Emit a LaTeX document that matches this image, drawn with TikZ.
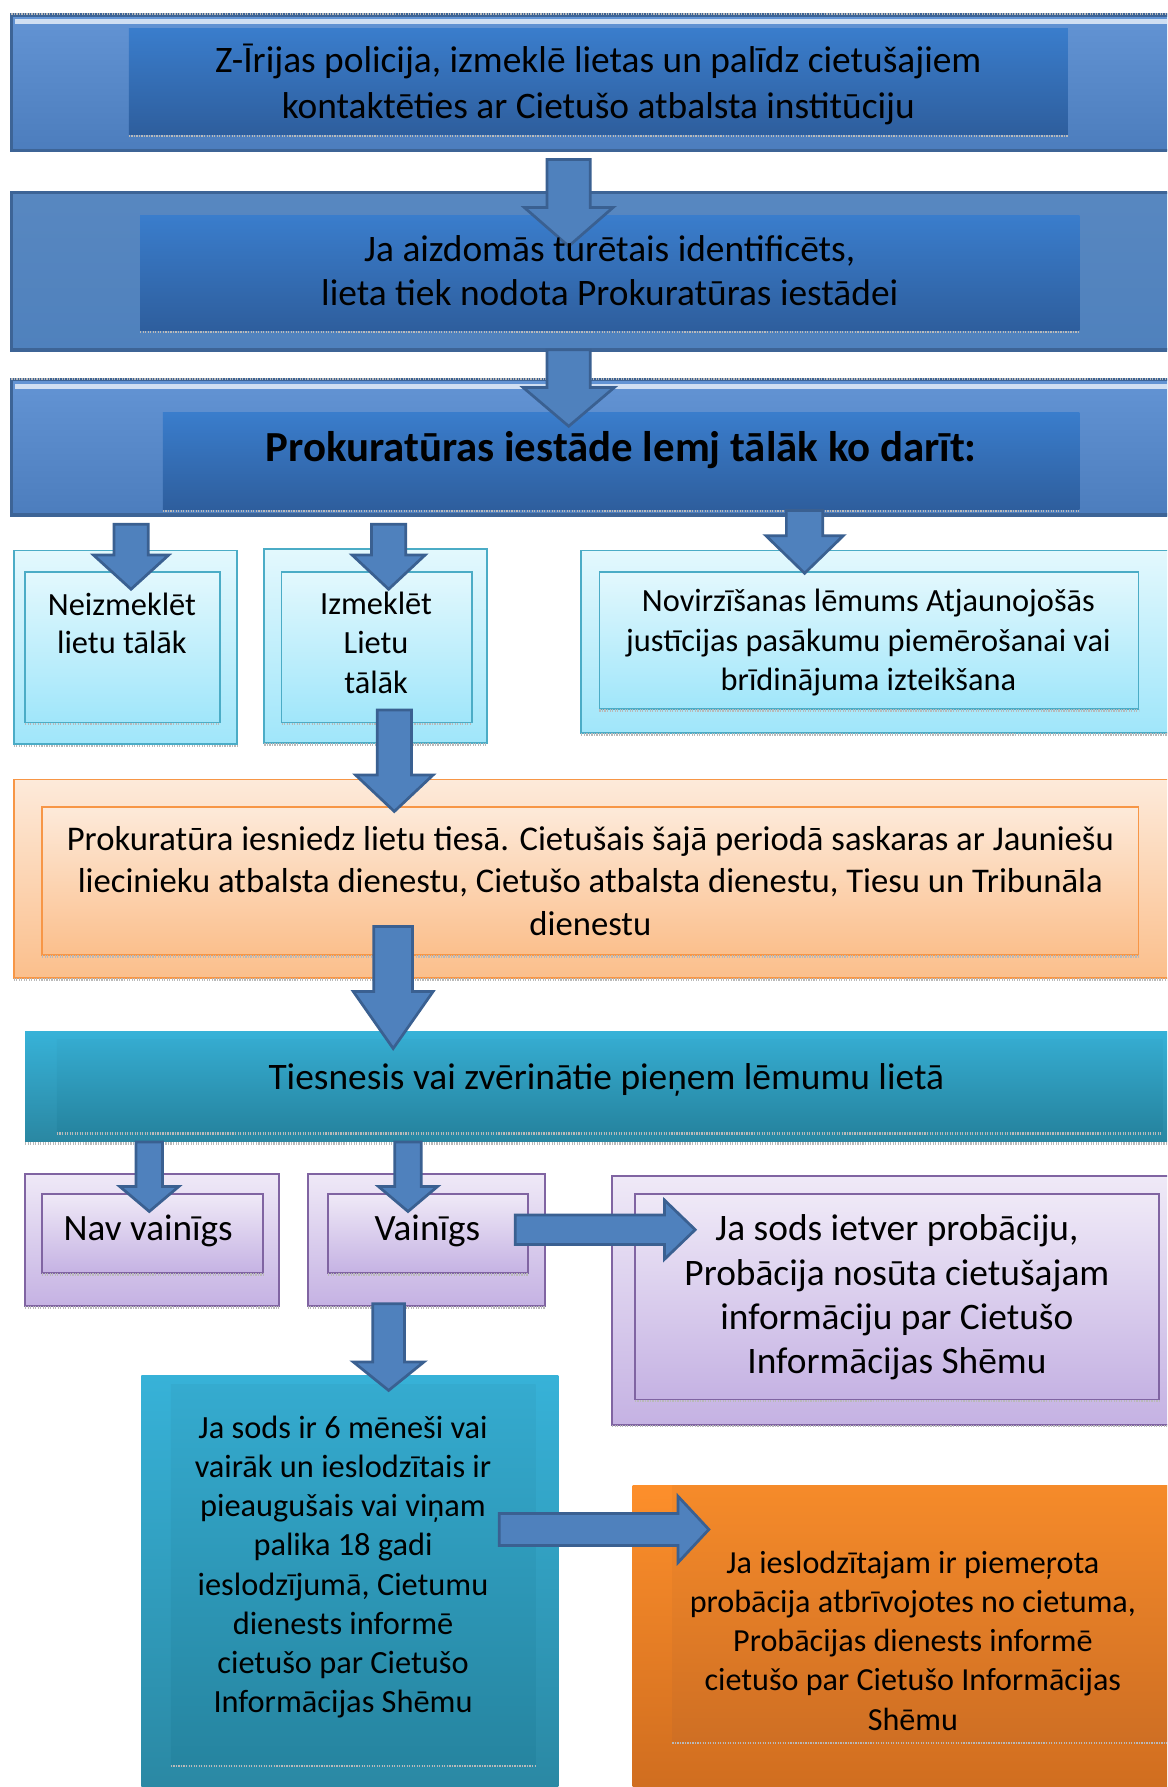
\documentclass[tikz,border=0pt]{standalone}
\usepackage{fontspec}
\setmainfont{Carlito}
\usetikzlibrary{calc,fit}
\definecolor{blOutT}{HTML}{6394D4}
\definecolor{blOutB}{HTML}{4C7DBD}
\definecolor{blBord}{HTML}{3D6496}
\definecolor{blInT}{HTML}{3A7DCC}
\definecolor{blInB}{HTML}{2E5E9D}
\definecolor{arFill}{HTML}{4F81BD}
\definecolor{arBord}{HTML}{3A6091}
\definecolor{cyT}{HTML}{E3F8FD}
\definecolor{cyB}{HTML}{A0E6FA}
\definecolor{cyBord}{HTML}{4BACC6}
\definecolor{orT}{HTML}{FDEADA}
\definecolor{orB}{HTML}{FBBF8C}
\definecolor{orBord}{HTML}{F79646}
\definecolor{tlT}{HTML}{37B2D8}
\definecolor{tlB}{HTML}{2A87A2}
\definecolor{puT}{HTML}{EFE9F7}
\definecolor{puB}{HTML}{C5B2E3}
\definecolor{puBord}{HTML}{8064A2}
\definecolor{doT}{HTML}{FD8F2B}
\definecolor{doB}{HTML}{CE6C1F}
\tikzset{
  bx/.style={inner sep=0pt, outer sep=0pt},
  blueout/.style={bx, top color=blOutT, bottom color=blOutB, draw=blBord, line width=1.5pt},
  bluein/.style={bx, top color=blInT, bottom color=blInB},
  cyanbox/.style={bx, top color=cyT, bottom color=cyB, draw=cyBord, line width=0.8pt},
  orangebox/.style={bx, top color=orT, bottom color=orB, draw=orBord, line width=0.8pt},
  tealbox/.style={bx, top color=tlT, bottom color=tlB},
  tealin/.style={bx, top color=tlT!96!black, bottom color=tlB!102!white},
  purplebox/.style={bx, top color=puT, bottom color=puB, draw=puBord, line width=0.8pt},
  darkorange/.style={bx, top color=doT, bottom color=doB},
  darkorangein/.style={bx, top color=doT!97!black, bottom color=doB!98!white},
  wv/.style={draw=gray!55, line width=1.1pt, dash pattern=on 0.55pt off 0.55pt},
  arrowsty/.style={fill=arFill, draw=arBord, line width=1.2pt, line join=miter},
  txt/.style={align=center, inner sep=0pt, text=black},
}
\newcommand\blockarrow[5]{%
  \path ($(#2)!#5!(#1)$) coordinate (bah);
  \filldraw[arrowsty] ($(#1)!#3!90:(#2)$) -- ($(bah)!#3!90:(#2)$) -- ($(bah)!#4!90:(#2)$)
    -- (#2) -- ($(bah)!#4!-90:(#2)$) -- ($(bah)!#3!-90:(#2)$) -- ($(#1)!#3!-90:(#2)$) -- cycle;
}
\newcommand\wavyunder[1]{\draw[wv] ([yshift=-0.7pt]#1.south west) -- ([yshift=-0.7pt]#1.south east);}
\begin{document}
\begin{tikzpicture}[x=0.5pt,y=-0.5pt]
\useasboundingbox (0,0) rectangle (1024,1568);
\clip (0,0) rectangle (1024,1568);
\fill[white] (0,0) rectangle (1024,1568);

% ---------- boxes ----------
\node[blueout, fit={(10,13) (1040,132)}] (b1o) {};
\draw[white!70!blOutT, line width=2pt] (13,19) -- (1040,19);
\node[bluein, fit={(113,25) (937,118)}] (b1i) {};
\node[blueout, top color=arFill!95!white, bottom color=arFill, fit={(10,169) (1040,307)}] (b2o) {};
\node[bluein, fit={(123,189) (947,290)}] (b2i) {};
\node[blueout, fit={(10,333) (1040,452)}] (b3o) {};
\draw[white!70!blOutT, line width=2pt] (13,339) -- (1040,339);
\node[bluein, fit={(143,362) (947,447)}] (b3i) {};

\node[cyanbox, fit={(12,483) (208,653)}] (ao) {};
\node[cyanbox, fit={(22,502) (193,634)}] (ai) {};
\node[cyanbox, fit={(232,482) (427,652)}] (bo) {};
\node[cyanbox, fit={(247,502) (414,634)}] (bi) {};
\node[cyanbox, fit={(510,483) (1040,643)}] (co) {};
\node[cyanbox, fit={(526,502) (999,622)}] (ci) {};

\node[orangebox, fit={(12,684) (1040,858)}] (oo) {};
\node[orangebox, fit={(37,708) (999,838)}] (oi) {};

\node[tealbox, fit={(22,905) (1040,1002)}] (to) {};
\node[tealin, fit={(50,912) (1020,993)}] (ti) {};

\node[purplebox, fit={(22,1030) (245,1146)}] (no) {};
\node[purplebox, fit={(37,1048) (231,1117)}] (ni) {};
\node[purplebox, fit={(270,1030) (478,1146)}] (vo) {};
\node[purplebox, fit={(288,1048) (463,1117)}] (vi) {};
\node[purplebox, fit={(537,1032) (1040,1250)}] (po) {};
\node[purplebox, fit={(557,1048) (1017,1228)}] (pi) {};

\node[tealbox, fit={(124,1207) (490,1580)}] (bto) {};
\node[tealin, fit={(150,1215) (470,1548)}] (bti) {};
\node[darkorange, fit={(555,1303) (1040,1580)}] (boo) {};
\node[darkorangein, fit={(590,1303) (1040,1528)}] (boi) {};

% ---------- dotted shadow lines ----------
\foreach \n in {b1i,b2i,b3i,ao,ai,bo,bi,co,ci,oo,oi,to,ti,no,ni,vo,vi,po,pi,bti,boi}{\wavyunder{\n}}
\draw[wv] (10,12.5) -- (1040,12.5);
\draw[wv] (10,332.5) -- (1040,332.5);

% ---------- arrow end points ----------
\coordinate (a1s) at (499,140);  \coordinate (a1e) at (499,216);
\coordinate (a2s) at (499,307);  \coordinate (a2e) at (499,374);
\coordinate (a3s) at (115,460);  \coordinate (a3e) at (115,517);
\coordinate (a4s) at (341,460);  \coordinate (a4e) at (341,517);
\coordinate (a5s) at (706,448);  \coordinate (a5e) at (706,503);
\coordinate (a6s) at (346,623);  \coordinate (a6e) at (346,712);
\coordinate (a7s) at (345,813);  \coordinate (a7e) at (345,920);
\coordinate (a8s) at (131,1002); \coordinate (a8e) at (131,1063);
\coordinate (a9s) at (358,1002); \coordinate (a9e) at (358,1063);
\coordinate (a10s) at (452,1079); \coordinate (a10e) at (610,1079);
\coordinate (a11s) at (341,1144); \coordinate (a11e) at (341,1220);
\coordinate (a12s) at (438,1342); \coordinate (a12e) at (622,1342);

% ---------- arrows ----------
\blockarrow{a1s}{a1e}{9.5pt}{19.5pt}{17pt}
\blockarrow{a2s}{a2e}{9.5pt}{20pt}{17pt}
\blockarrow{a3s}{a3e}{7.5pt}{16.5pt}{15pt}
\blockarrow{a4s}{a4e}{7.5pt}{16pt}{15pt}
\blockarrow{a5s}{a5e}{8pt}{17pt}{16.5pt}
\blockarrow{a6s}{a6e}{7.5pt}{17pt}{16pt}
\blockarrow{a7s}{a7e}{8.5pt}{17.5pt}{25pt}
\blockarrow{a8s}{a8e}{5.8pt}{13pt}{11pt}
\blockarrow{a9s}{a9e}{5.8pt}{13pt}{11pt}
\blockarrow{a10s}{a10e}{6.5pt}{13pt}{13.5pt}
\blockarrow{a11s}{a11e}{7pt}{15.5pt}{12.5pt}
\blockarrow{a12s}{a12e}{7pt}{14.5pt}{13.5pt}

% ---------- texts ----------
\node[txt, font=\fontsize{16.4pt}{20pt}\selectfont] (t1) at (525,74)
  {Z-Īrijas policija, izmeklē lietas un palīdz cietušajiem\\kontaktēties ar Cietušo atbalsta institūciju};
\node[txt, font=\fontsize{16.4pt}{19.5pt}\selectfont] (t2) at (535,237.5)
  {Ja aizdomās turētais identificēts,\\lieta tiek nodota Prokuratūras iestādei};
\node[txt, font=\fontsize{18.8pt}{22pt}\selectfont\bfseries] (t3) at (545,395)
  {Prokuratūras iestāde lemj tālāk ko darīt:};
\node[txt, font=\fontsize{14.2pt}{17pt}\selectfont] (tA) at (107,547)
  {Neizmeklēt\\lietu tālāk};
\node[txt, font=\fontsize{14.2pt}{17.3pt}\selectfont] (tB) at (330,564)
  {Izmeklēt\\Lietu\\tālāk};
\node[txt, font=\fontsize{14.2pt}{17.3pt}\selectfont] (tC) at (762,564)
  {Novirzīšanas lēmums Atjaunojošās\\justīcijas pasākumu piemērošanai vai\\brīdinājuma izteikšana};
\node[txt, font=\fontsize{15.2pt}{18.5pt}\selectfont] (tO) at (518,773)
  {Prokuratūra iesniedz lietu tiesā. Cietušais šajā periodā saskaras ar Jauniešu\\liecinieku atbalsta dienestu, Cietušo atbalsta dienestu, Tiesu un Tribunāla\\dienestu};
\node[txt, font=\fontsize{16.4pt}{20pt}\selectfont] (tT) at (532,948)
  {Tiesnesis vai zvērinātie pieņem lēmumu lietā};
\node[txt, font=\fontsize{16.3pt}{20pt}\selectfont] (tN) at (130,1080) {Nav vainīgs};
\node[txt, font=\fontsize{16.3pt}{20pt}\selectfont] (tV) at (375,1080) {Vainīgs};
\node[txt, font=\fontsize{16.4pt}{19.5pt}\selectfont] (tP) at (787,1138.5)
  {Ja sods ietver probāciju,\\Probācija nosūta cietušajam\\informāciju par Cietušo\\Informācijas Shēmu};
\node[txt, font=\fontsize{14.2pt}{17.2pt}\selectfont] (tBT) at (301,1375)
  {Ja sods ir 6 mēneši vai\\vairāk un ieslodzītais ir\\pieaugušais vai viņam\\palika 18 gadi\\ieslodzījumā, Cietumu\\dienests informē\\cietušo par Cietušo\\Informācijas Shēmu};
\node[txt, font=\fontsize{14.1pt}{17.2pt}\selectfont] (tBO) at (801,1439.5)
  {Ja ieslodzītajam ir piemeŗota\\probācija atbrīvojotes no cietuma,\\Probācijas dienests informē\\cietušo par Cietušo Informācijas\\Shēmu};
\end{tikzpicture}
\end{document}
